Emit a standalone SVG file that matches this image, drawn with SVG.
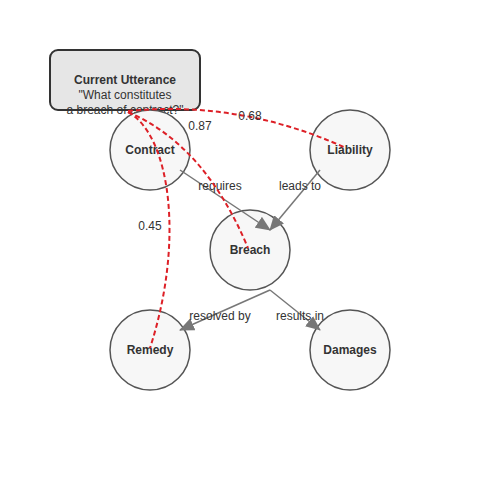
<svg xmlns="http://www.w3.org/2000/svg" width="500" height="500" viewBox="0 0 500 500">
<style>
.node circle{fill:#f7f7f7;stroke:#555;stroke-width:1.5}
.nl{font-family:"Liberation Sans",Arial,sans-serif;font-size:12px;font-weight:bold;fill:#333;text-anchor:middle}
.el{font-family:"Liberation Sans",Arial,sans-serif;font-size:12px;fill:#333;text-anchor:middle}
.edge{stroke:#777;stroke-width:1.5;fill:none;marker-end:url(#arr)}
.att{stroke:#dd2027;stroke-width:2;fill:none;stroke-dasharray:5,3}
</style>
<defs>
<marker id="arr" markerUnits="userSpaceOnUse" markerWidth="15" markerHeight="13" refX="14" refY="6.5" orient="auto">
<path d="M0,0 L15,6.5 L0,13 Z" fill="#777"/>
</marker>
</defs>
<rect width="500" height="500" fill="#fff"/>
<g id="utterance">
<rect x="50" y="50" width="150" height="60" rx="8" fill="#e6e6e6" stroke="#333" stroke-width="2"/>
<text class="nl" x="125" y="84">Current Utterance</text>
<text class="el" x="125" y="99">"What constitutes</text>
<text class="el" x="125" y="114">a breach of contract?"</text>
</g>
<g id="node-contract" class="node"><circle cx="150" cy="150" r="40"/><text class="nl" x="150" y="154">Contract</text></g>
<g id="node-liability" class="node"><circle cx="350" cy="150" r="40"/><text class="nl" x="350" y="154">Liability</text></g>
<g id="node-breach" class="node"><circle cx="250" cy="250" r="40"/><text class="nl" x="250" y="254">Breach</text></g>
<g id="node-remedy" class="node"><circle cx="150" cy="350" r="40"/><text class="nl" x="150" y="354">Remedy</text></g>
<g id="node-damages" class="node"><circle cx="350" cy="350" r="40"/><text class="nl" x="350" y="354">Damages</text></g>
<g id="connectors">
<line class="edge" x1="180" y1="170" x2="270" y2="230"/>
<line class="edge" x1="320" y1="170" x2="270" y2="230"/>
<line class="edge" x1="270" y1="290" x2="180" y2="330"/>
<line class="edge" x1="270" y1="290" x2="320" y2="330"/>
<text class="el" x="220" y="190">requires</text>
<text class="el" x="300" y="190">leads to</text>
<text class="el" x="220" y="320">resolved by</text>
<text class="el" x="300" y="320">results in</text>
<path class="att" d="M128,112 Q205,145 248,248"/>
<path class="att" d="M128,111 Q240,100 346,148"/>
<path class="att" d="M128,112 C170,135 185,240 150,348"/>
<text class="el" x="200" y="130">0.87</text>
<text class="el" x="250" y="120">0.68</text>
<text class="el" x="150" y="230">0.45</text>
</g>
</svg>
